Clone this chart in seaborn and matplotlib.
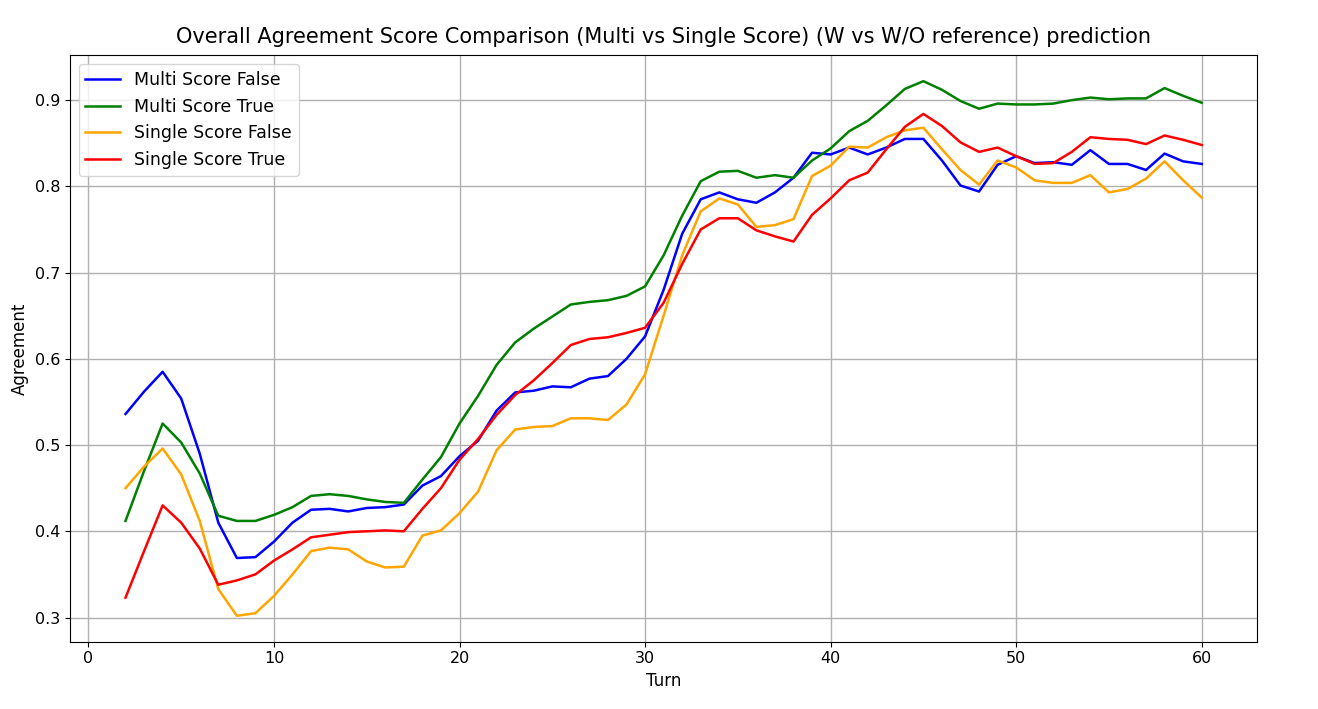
import numpy as np
import pandas as pd
import matplotlib
matplotlib.use('Agg')
import matplotlib.pyplot as plt
import seaborn as sns

turns = list(range(2, 61))

multi_false = [0.536, 0.562, 0.585, 0.554, 0.490, 0.410, 0.369, 0.370, 0.388, 0.410,
               0.425, 0.426, 0.423, 0.427, 0.428, 0.431, 0.453, 0.464, 0.487, 0.505,
               0.540, 0.561, 0.563, 0.568, 0.567, 0.577, 0.580, 0.600, 0.626, 0.680,
               0.745, 0.785, 0.793, 0.785, 0.781, 0.793, 0.810, 0.839, 0.837, 0.845,
               0.837, 0.845, 0.855, 0.855, 0.830, 0.801, 0.794, 0.825, 0.835, 0.827,
               0.828, 0.825, 0.842, 0.826, 0.826, 0.819, 0.838, 0.829, 0.826]

multi_true = [0.412, 0.470, 0.525, 0.503, 0.467, 0.418, 0.412, 0.412, 0.419, 0.428,
              0.441, 0.443, 0.441, 0.437, 0.434, 0.433, 0.460, 0.486, 0.525, 0.557,
              0.593, 0.619, 0.635, 0.649, 0.663, 0.666, 0.668, 0.673, 0.684, 0.720,
              0.766, 0.806, 0.817, 0.818, 0.810, 0.813, 0.810, 0.830, 0.844, 0.864,
              0.876, 0.894, 0.913, 0.922, 0.912, 0.899, 0.890, 0.896, 0.895, 0.895,
              0.896, 0.900, 0.903, 0.901, 0.902, 0.902, 0.914, 0.905, 0.897]

single_false = [0.450, 0.475, 0.496, 0.466, 0.412, 0.333, 0.302, 0.305, 0.325, 0.350,
                0.377, 0.381, 0.379, 0.365, 0.358, 0.359, 0.395, 0.401, 0.421, 0.446,
                0.494, 0.518, 0.521, 0.522, 0.531, 0.531, 0.529, 0.547, 0.582, 0.650,
                0.720, 0.771, 0.786, 0.779, 0.753, 0.755, 0.762, 0.812, 0.824, 0.846,
                0.845, 0.857, 0.865, 0.868, 0.843, 0.819, 0.802, 0.830, 0.822, 0.807,
                0.804, 0.804, 0.813, 0.793, 0.797, 0.809, 0.829, 0.807, 0.787]

single_true = [0.323, 0.377, 0.430, 0.410, 0.380, 0.338, 0.343, 0.350, 0.366, 0.379,
               0.393, 0.396, 0.399, 0.400, 0.401, 0.400, 0.426, 0.450, 0.483, 0.507,
               0.535, 0.558, 0.575, 0.595, 0.616, 0.623, 0.625, 0.630, 0.636, 0.665,
               0.710, 0.750, 0.763, 0.763, 0.749, 0.742, 0.736, 0.767, 0.786, 0.807,
               0.816, 0.843, 0.869, 0.884, 0.870, 0.851, 0.840, 0.845, 0.835, 0.826,
               0.827, 0.840, 0.857, 0.855, 0.854, 0.849, 0.859, 0.854, 0.848]

series_names = ['Multi Score False', 'Multi Score True', 'Single Score False', 'Single Score True']
series_colors = ['blue', 'green', 'orange', 'red']

# long format table for seaborn
frames = []
for name, vals in zip(series_names, [multi_false, multi_true, single_false, single_true]):
    frames.append(pd.DataFrame({'Turn': turns, 'Agreement': vals, 'Series': name}))
data = pd.concat(frames, ignore_index=True)

fig = plt.figure(figsize=(13.18, 7.09), dpi=100)
ax = fig.add_axes([0.053, 0.095, 0.901, 0.827])

sns.lineplot(data=data, x='Turn', y='Agreement', hue='Series',
             palette=dict(zip(series_names, series_colors)), linewidth=1.8, ax=ax)

ax.set_title('Overall Agreement Score Comparison (Multi vs Single Score) (W vs W/O reference) prediction',
             fontsize=15, pad=9)
ax.set_xlabel('Turn', fontsize=12)
ax.set_ylabel('Agreement', fontsize=12)
ax.tick_params(labelsize=11.5)
ax.set_xlim(-1, 63)
ax.set_ylim(0.272, 0.952)
ax.set_yticks([0.3, 0.4, 0.5, 0.6, 0.7, 0.8, 0.9])
ax.grid(True, color='#b0b0b0', linewidth=1)

handles, labels = ax.get_legend_handles_labels()
ax.legend(handles, labels, loc='upper left', fontsize=12.5)

fig.savefig('out.png', dpi=100)
